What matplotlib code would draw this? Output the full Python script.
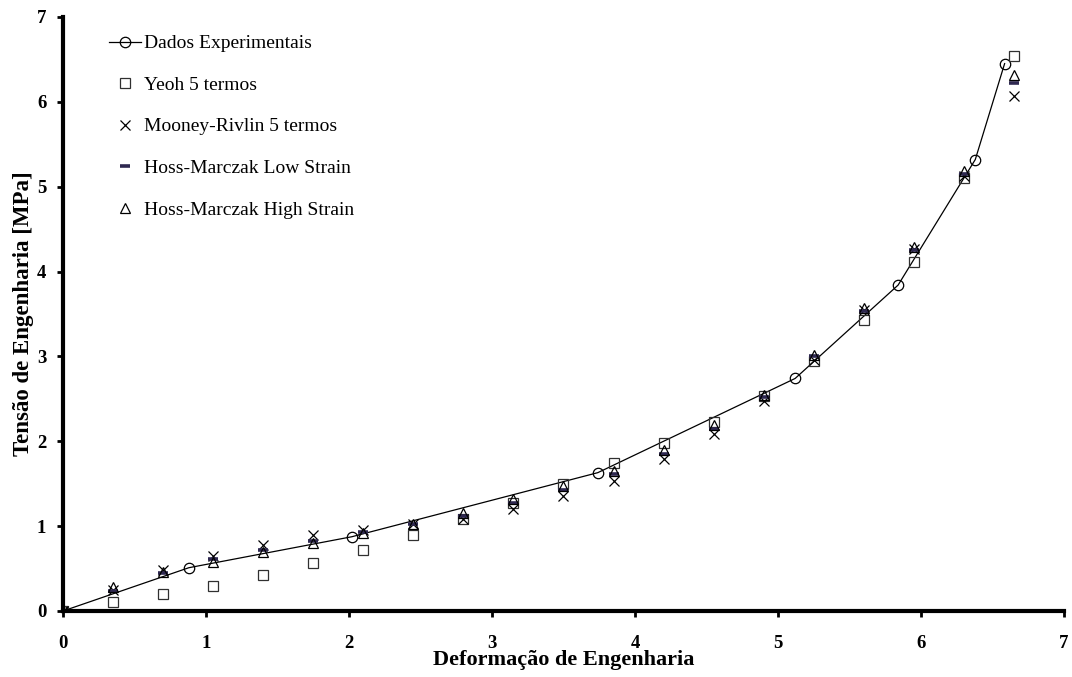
import matplotlib.pyplot as plt

# Experimental data (engineering strain vs engineering stress)
exp_strain = [0, 0.88, 2.02, 3.74, 5.12, 5.84, 6.38, 6.585]
exp_stress = [0, 0.51, 0.875, 1.63, 2.74, 3.84, 5.32, 6.45]

# Strain values where the fitted models were evaluated
model_strain = [0, 0.35, 0.70, 1.05, 1.40, 1.75, 2.10, 2.45, 2.80, 3.15,
                3.50, 3.85, 4.20, 4.55, 4.90, 5.25, 5.60, 5.95, 6.30, 6.65]

yeoh = [0, 0.11, 0.20, 0.30, 0.42, 0.565, 0.72, 0.90, 1.08, 1.27,
        1.50, 1.74, 1.975, 2.23, 2.53, 2.94, 3.43, 4.11, 5.10, 6.54]
mooney = [0, 0.25, 0.48, 0.65, 0.78, 0.89, 0.955, 1.03, 1.08, 1.20,
          1.36, 1.53, 1.79, 2.09, 2.48, 2.96, 3.55, 4.27, 5.13, 6.07]
hm_low = [0, 0.24, 0.45, 0.61, 0.72, 0.82, 0.93, 1.03, 1.12, 1.275,
          1.43, 1.61, 1.85, 2.15, 2.52, 3.00, 3.53, 4.25, 5.15, 6.22]
hm_high = [0, 0.28, 0.46, 0.58, 0.69, 0.80, 0.915, 1.03, 1.15, 1.32,
           1.47, 1.65, 1.90, 2.19, 2.55, 3.02, 3.57, 4.29, 5.19, 6.32]

labels = ['Dados Experimentais', 'Yeoh 5 termos', 'Mooney-Rivlin 5 termos',
          'Hoss-Marczak Low Strain', 'Hoss-Marczak High Strain']
ticks = [0, 1, 2, 3, 4, 5, 6, 7]

plt.rcParams['font.family'] = 'Liberation Serif'

fig = plt.figure(figsize=(10.72, 6.77), dpi=100)
ax = fig.add_axes([0.0588, 0.0975, 0.9337, 0.8775])

ax.plot(exp_strain, exp_stress, color='black', lw=0.9, marker='o', ms=7.5,
        mfc='none', mec='black', mew=0.9, label=labels[0])
ax.plot(model_strain, yeoh, ls='none', marker='s', ms=7, mfc='none',
        mec='#303030', mew=0.9, label=labels[1])
ax.plot(model_strain, mooney, ls='none', marker='x', ms=7, color='black',
        mew=0.9, label=labels[2])
ax.plot(model_strain, hm_low, ls='none', marker='_', ms=7, color='#2e2850',
        mew=2.6, label=labels[3])
ax.plot(model_strain, hm_high, ls='none', marker='^', ms=7, mfc='none',
        mec='black', mew=0.9, label=labels[4])

ax.set_xlim(0, 7)
ax.set_ylim(0, 7)
ax.set_xticks(ticks)
ax.set_yticks(ticks)
ax.tick_params(direction='out', length=4, width=2, labelsize=13.5)
ax.tick_params(axis='x', pad=13)
ax.tick_params(axis='y', pad=8)
for lab in ax.get_xticklabels() + ax.get_yticklabels():
    lab.set_fontweight('bold')

for side in ['top', 'right']:
    ax.spines[side].set_visible(False)
for side in ['left', 'bottom']:
    ax.spines[side].set_linewidth(3)

ax.set_xlabel('Deformação de Engenharia', fontsize=16, fontweight='bold', labelpad=-1)
ax.set_ylabel('Tensão de Engenharia [MPa]', fontsize=16.5, fontweight='bold', labelpad=2)

ax.legend(loc='upper left', bbox_to_anchor=(0.038, 0.983), frameon=False,
          fontsize=14, handlelength=1.65, handletextpad=0.15, labelspacing=1.23,
          borderaxespad=0)

fig.savefig('out.png', dpi=100)
